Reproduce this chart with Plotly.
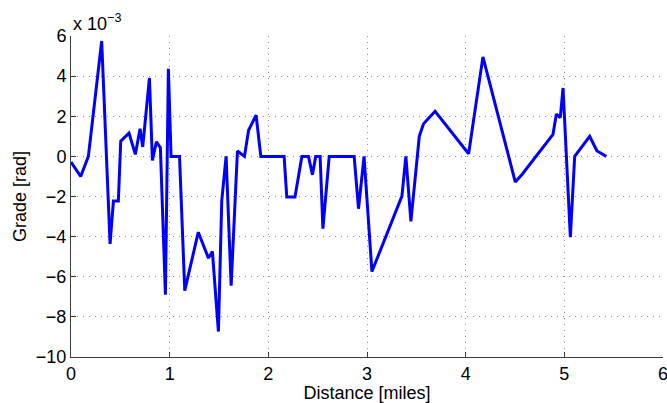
import plotly.graph_objects as go

distance_miles = [0.0, 0.098, 0.176, 0.311, 0.396, 0.43, 0.48, 0.504, 0.588, 0.652, 0.70, 0.727,
                  0.795, 0.825, 0.866, 0.906, 0.957, 0.987, 1.014, 1.10, 1.153, 1.29, 1.393, 1.433,
                  1.494, 1.528, 1.572, 1.623, 1.687, 1.758, 1.80, 1.876, 1.924, 2.16, 2.187, 2.27,
                  2.34, 2.407, 2.447, 2.48, 2.525, 2.553, 2.617, 2.87, 2.914, 2.97, 3.05, 3.354,
                  3.394, 3.445, 3.53, 3.573, 3.69, 4.03, 4.175, 4.503, 4.571, 4.885, 4.919, 4.959,
                  4.987, 5.061, 5.105, 5.257, 5.331, 5.426]
grade_e3 = [-0.28, -1.0, 0.0, 5.75, -4.36, -2.23, -2.23, 0.76, 1.16, 0.1, 1.38, 0.47,
            3.91, -0.2, 0.73, 0.43, -6.9, 4.37, 0.0, 0.0, -6.69, -3.78, -5.07, -4.74,
            -8.73, -2.2, 0.0, -6.44, 0.27, 0.0, 1.3, 2.05, 0.0, 0.0, -2.03, -2.03,
            0.0, 0.0, -0.92, 0.0, 0.0, -3.6, 0.0, 0.0, -2.61, 0.0, -5.74, -1.98,
            0.0, -3.24, 1.0, 1.63, 2.25, 0.13, 4.96, -1.28, -0.9, 1.1, 2.1, 1.93,
            3.41, -4.03, 0.0, 1.0, 0.27, 0.0]

x_ticks = [0, 1, 2, 3, 4, 5, 6]
y_ticks = [-10, -8, -6, -4, -2, 0, 2, 4, 6]
y_tick_text = [("\u2212" + str(-v)) if v < 0 else str(v) for v in y_ticks]

font = "Liberation Sans, Arial, Helvetica, sans-serif"

fig = go.Figure()
fig.add_trace(go.Scatter(x=distance_miles, y=grade_e3, mode="lines",
                         line=dict(color="#0000FF", width=3), showlegend=False))

axis_common = dict(showgrid=True, gridcolor="#8c8c8c", griddash="1px,5px", gridwidth=1,
                   showline=True, linecolor="#3c3c3c", linewidth=1, zeroline=False,
                   ticks="inside", ticklen=5, tickcolor="#3c3c3c", mirror=False,
                   ticklabeloverflow="allow", automargin=False,
                   tickfont=dict(family=font, size=18, color="black"))

fig.update_xaxes(range=[0, 6], tickvals=x_ticks, ticktext=[str(v) for v in x_ticks],
                 title=dict(text="Distance [miles]", font=dict(family=font, size=18, color="black"),
                            standoff=0), **axis_common)
fig.update_yaxes(range=[-10, 6], tickvals=y_ticks, ticktext=y_tick_text,
                 title=dict(text="Grade [rad]", font=dict(family=font, size=18, color="black"),
                            standoff=4), **axis_common)

fig.add_annotation(xref="paper", yref="paper", x=0.0, y=1.0, xanchor="left", yanchor="bottom",
                   text="x 10<sup>\u22123</sup>", showarrow=False, xshift=0, yshift=0,
                   font=dict(family=font, size=18, color="black"))

fig.update_layout(width=667, height=403, margin=dict(l=71, r=4, t=36, b=46),
                  plot_bgcolor="white", paper_bgcolor="white")

fig.write_html("out.html")
